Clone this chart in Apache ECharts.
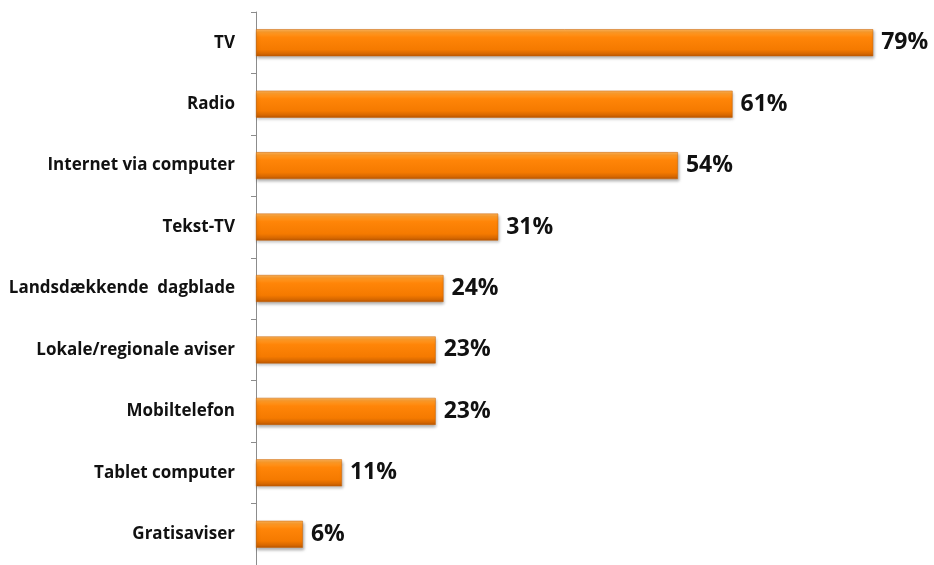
<!DOCTYPE html>
<html><head><meta charset="utf-8">
<script src="https://cdn.jsdelivr.net/npm/echarts@6/dist/echarts.min.js"></script>
<style>html,body{margin:0;padding:0;background:#fff}#c{width:934px;height:565px}</style>
</head><body><div id="c"></div>
<script>
const categories = ["TV","Radio","Internet via computer","Tekst-TV","Landsdækkende  dagblade","Lokale/regionale aviser","Mobiltelefon","Tablet computer","Gratisaviser"];
const values = [79,61,54,31,24,23,23,11,6];

const chart = echarts.init(document.getElementById('c'));
chart.setOption({
  animation:false,
  grid:{left:256, right:53, top:12, bottom:-3, containLabel:false},
  xAxis:{type:'value', min:0, max:80, show:false},
  yAxis:{type:'category', data:categories, inverse:true,
    axisLine:{lineStyle:{color:'#8c8c8c', width:1}},
    axisTick:{show:true, length:5, lineStyle:{color:'#8c8c8c'}},
    axisLabel:{margin:21, fontFamily:'Open Sans', fontWeight:'bold', fontSize:17, color:'#111'}
  },
  series:[{type:'bar', data:values, barWidth:27,
    itemStyle:{
      color:new echarts.graphic.LinearGradient(0,0,0,1,[
        {offset:0,color:'#ffb55a'},{offset:0.12,color:'#ff9a26'},{offset:0.3,color:'#ff8508'},
        {offset:0.75,color:'#f57a00'},{offset:0.9,color:'#d86800'},{offset:1,color:'#b85500'}]),
      borderColor:'#c96000', borderWidth:0.5,
      shadowColor:'rgba(0,0,0,0.3)', shadowBlur:3, shadowOffsetX:1, shadowOffsetY:2
    },
    label:{show:true, position:'right', distance:8, formatter:'{c}%', fontFamily:'Open Sans', fontWeight:'bold', fontSize:23, color:'#111'}
  }]
});
</script></body></html>
